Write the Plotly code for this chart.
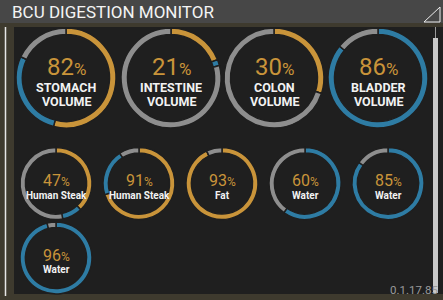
import plotly.graph_objects as go

W, H = 443, 300

# ---- data ----
big_labels = ["STOMACH", "INTESTINE", "COLON", "BLADDER"]
big_sub = ["VOLUME", "VOLUME", "VOLUME", "VOLUME"]
big_pct = [82, 21, 30, 86]
big_gold = [54, 19, 30, 0]
big_blue = [28, 2, 0, 86]

small_labels = ["Human Steak", "Human Steak", "Fat", "Water", "Water", "Water"]
small_pct = [47, 91, 93, 60, 85, 96]
small_gold = [38, 70, 93, 0, 0, 0]
small_blue = [9, 21, 0, 60, 85, 96]

title = "BCU DIGESTION MONITOR"
version = "0.1.17.85"

# ---- style ----
GOLD = "#c9943a"
BLUE = "#2e7ca4"
GRAY = "#8e8e8e"
PANEL = "#1f1f1f"
TEXTURE = "#3e3a2e"
FONT = "Roboto, 'Liberation Sans Narrow', sans-serif"

big_cx = [66, 171, 274, 378]
big_cy = 78
big_r = 50
small_cx = [56, 139, 222, 305, 388, 56]
small_cy = [183.5, 183.5, 183.5, 183.5, 183.5, 258]
small_r = 36

fig = go.Figure()


def px_x(x):
    return x / W


def px_y(y):
    return 1 - y / H


def add_ring(cx, cy, r, gold, blue, pct, hole):
    gray = 100 - pct
    fig.add_trace(go.Pie(
        values=[gold, blue, gray],
        marker=dict(colors=[GOLD, BLUE, GRAY], line=dict(color=PANEL, width=1.5)),
        sort=False, direction="clockwise", rotation=0,
        hole=hole, textinfo="none", hoverinfo="skip", showlegend=False,
        domain=dict(x=[px_x(cx - r), px_x(cx + r)], y=[px_y(cy + r), px_y(cy - r)]),
    ))


annotations = []
for i in range(4):
    add_ring(big_cx[i], big_cy, big_r, big_gold[i], big_blue[i], big_pct[i], 0.87)
    annotations.append(dict(
        x=px_x(big_cx[i]), y=px_y(67), xref="paper", yref="paper",
        text=f"{big_pct[i]}<span style='font-size:17px'>%</span>",
        showarrow=False, font=dict(family=FONT, size=24, color=GOLD),
        xanchor="center", yanchor="middle"))
    annotations.append(dict(
        x=px_x(big_cx[i]), y=px_y(87.5), xref="paper", yref="paper",
        text=f"<b>{big_labels[i]}</b>", showarrow=False,
        font=dict(family=FONT, size=12.5, color="#f2f2f2"),
        xanchor="center", yanchor="middle"))
    annotations.append(dict(
        x=px_x(big_cx[i]), y=px_y(101.5), xref="paper", yref="paper",
        text=f"<b>{big_sub[i]}</b>", showarrow=False,
        font=dict(family=FONT, size=12.5, color="#f2f2f2"),
        xanchor="center", yanchor="middle"))

for i in range(6):
    add_ring(small_cx[i], small_cy[i], small_r, small_gold[i], small_blue[i], small_pct[i], 0.85)
    annotations.append(dict(
        x=px_x(small_cx[i]), y=px_y(small_cy[i] - 3), xref="paper", yref="paper",
        text=f"{small_pct[i]}<span style='font-size:12px'>%</span>",
        showarrow=False, font=dict(family=FONT, size=16, color=GOLD),
        xanchor="center", yanchor="middle"))
    annotations.append(dict(
        x=px_x(small_cx[i]), y=px_y(small_cy[i] + 11.5), xref="paper", yref="paper",
        text=f"<b>{small_labels[i]}</b>", showarrow=False,
        font=dict(family=FONT, size=10, color="#f2f2f2"),
        xanchor="center", yanchor="middle"))

annotations.append(dict(
    x=px_x(10), y=px_y(12.5), xref="paper", yref="paper", text=title,
    showarrow=False, font=dict(family=FONT, size=17, color="#f4f4f4"),
    xanchor="left", yanchor="middle"))
annotations.append(dict(
    x=px_x(388), y=px_y(290), xref="paper", yref="paper", text=version,
    showarrow=False, font=dict(family=FONT, size=11.5, color="#9a9a9a"),
    xanchor="left", yanchor="middle"))

shapes = [
    # title bar
    dict(type="rect", xref="paper", yref="paper", x0=0, x1=1, y0=px_y(23), y1=1,
         fillcolor="#474747", line=dict(width=0), layer="below"),
    # panel
    dict(type="rect", xref="paper", yref="paper", x0=px_x(14), x1=1, y0=px_y(294), y1=px_y(27),
         fillcolor=PANEL, line=dict(width=0), layer="below"),
    # left white line
    dict(type="line", xref="paper", yref="paper", x0=px_x(5.5), x1=px_x(5.5), y0=px_y(296), y1=px_y(27),
         line=dict(color="#e6e6e6", width=1.5)),
    # scrollbar track line
    dict(type="line", xref="paper", yref="paper", x0=px_x(435.5), x1=px_x(435.5), y0=px_y(38), y1=px_y(27),
         line=dict(color="#9a9a9a", width=1)),
    # scrollbar
    dict(type="rect", xref="paper", yref="paper", x0=px_x(433), x1=px_x(438), y0=px_y(293), y1=px_y(38),
         fillcolor="#c9c9c9", line=dict(width=0), layer="below"),
    # resize triangle
    dict(type="path", xref="paper", yref="paper",
         path=f"M {px_x(424)},{px_y(22)} L {px_x(440)},{px_y(22)} L {px_x(440)},{px_y(7)} Z",
         line=dict(color="#eeeeee", width=1), fillcolor="rgba(0,0,0,0)"),
]

fig.update_layout(
    width=W, height=H, margin=dict(l=0, r=0, t=0, b=0),
    paper_bgcolor=TEXTURE, plot_bgcolor=TEXTURE,
    shapes=shapes, annotations=annotations,
)

fig.write_html("out.html")
